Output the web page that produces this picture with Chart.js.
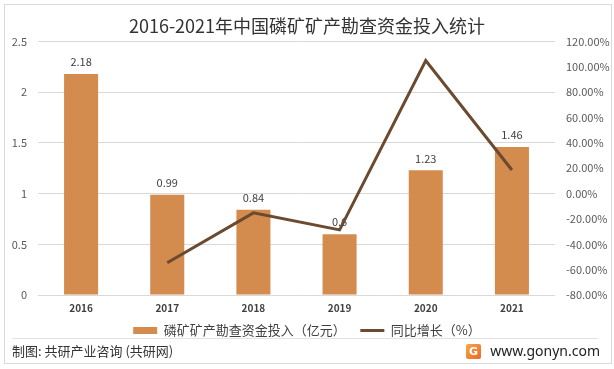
<!DOCTYPE html>
<html>
<head>
<meta charset="utf-8">
<script src="https://cdn.jsdelivr.net/npm/chart.js@4/dist/chart.umd.min.js"></script>
<style>
  body { margin: 0; background: #fff; }
  #wrap { position: relative; width: 614px; height: 369px; overflow: hidden; font-family: "Noto Sans CJK SC", "Noto Sans", sans-serif; }
  #chart { position: absolute; left: 0; top: 0; }
  .frame { position: absolute; left: 4px; top: 4px; width: 606px; height: 358px; border: 1px solid #d9d9d9; pointer-events: none; }
  .sep { position: absolute; left: 12px; top: 338px; width: 586px; height: 1px; background: #e3e3e3; }
  .source { position: absolute; left: 12px; top: 342px; font-size: 13px; color: #333; line-height: 18px; }
  .site { position: absolute; right: 14px; top: 341px; font-size: 14px; color: #222; line-height: 20px; font-family: "Noto Sans", sans-serif; }
  .logo { position: absolute; left: 466px; top: 344px; width: 15px; height: 15px; border-radius: 2px;
          background: linear-gradient(135deg, #f6a54a, #ea6a2a); color: #fff; font: bold 11px "DejaVu Sans", sans-serif;
          text-align: center; line-height: 15px; }
</style>
</head>
<body>
<div id="wrap">
  <canvas id="chart" width="614" height="347"></canvas>
  <div class="frame"></div>
  <div class="sep"></div>
  <div class="source">制图: 共研产业咨询 (共研网)</div>
  <div class="logo">G</div>
  <div class="site">www.gonyn.com</div>
</div>
<script>
// dados do gráfico
const anos = ['2016', '2017', '2018', '2019', '2020', '2021'];
const investimento = [2.18, 0.99, 0.84, 0.6, 1.23, 1.46];      // 亿元
const crescimento = [null, -54.6, -15.2, -28.6, 105.0, 18.7];  // %
const nomeBarra = '磷矿矿产勘查资金投入（亿元）';
const nomeLinha = '同比增长（%）';
const titulo = '2016-2021年中国磷矿矿产勘查资金投入统计';

const corBarra = '#d38b4e';
const corLinha = '#6b4a30';
const fonte = '"Noto Sans CJK SC", "Noto Sans", sans-serif';

// rótulos de valor acima das barras (desenhados antes da linha)
const rotulosBarra = {
    id: 'rotulosBarra',
    afterDatasetDraw(chart, args) {
        if (args.index !== 0) return;
        const ctx = chart.ctx;
        const meta = chart.getDatasetMeta(0);
        ctx.save();
        ctx.font = '11px ' + fonte;
        ctx.fillStyle = '#404040';
        ctx.textAlign = 'center';
        ctx.textBaseline = 'middle';
        meta.data.forEach((bar, i) => {
            ctx.fillText(String(investimento[i]), bar.x, bar.y - 12);
        });
        ctx.restore();
    }
};

new Chart(document.getElementById('chart'), {
    type: 'bar',
    data: {
        labels: anos,
        datasets: [{
            type: 'bar',
            label: nomeBarra,
            data: investimento,
            backgroundColor: corBarra,
            yAxisID: 'y',
            order: 1,
            categoryPercentage: 1,
            barPercentage: 0.395
        }, {
            type: 'line',
            label: nomeLinha,
            data: crescimento,
            borderColor: corLinha,
            backgroundColor: corLinha,
            borderWidth: 3,
            pointRadius: 0,
            tension: 0,
            yAxisID: 'y1',
            order: 0
        }]
    },
    options: {
        responsive: false,
        animation: false,
        devicePixelRatio: 1,
        layout: { padding: { left: 0, right: 0, top: 0, bottom: 0 } },
        plugins: {
            title: {
                display: true,
                text: titulo,
                color: '#333',
                font: { family: fonte, size: 18, weight: 'normal' },
                padding: { top: 15, bottom: 5 }
            },
            legend: {
                position: 'bottom',
                labels: {
                    color: '#404040',
                    font: { family: fonte, size: 13 },
                    usePointStyle: true,
                    pointStyleWidth: 24,
                    boxHeight: 7,
                    padding: 3,
                    generateLabels(chart) {
                        return chart.data.datasets.map((ds, i) => ({
                            text: ds.label + (ds.type === 'bar' ? '    ' : ''),
                            datasetIndex: i,
                            fillStyle: ds.type === 'bar' ? corBarra : corLinha,
                            strokeStyle: ds.type === 'bar' ? corBarra : corLinha,
                            lineWidth: ds.type === 'bar' ? 0 : 3,
                            pointStyle: ds.type === 'bar' ? 'rect' : 'line',
                            fontColor: '#404040'
                        }));
                    }
                }
            },
            tooltip: { enabled: false }
        },
        scales: {
            x: {
                grid: { display: false, drawTicks: false },
                border: { display: false },
                ticks: { color: '#404040', font: { family: fonte, size: 10, weight: 'bold' }, padding: 7 }
            },
            y: {
                position: 'left',
                min: 0,
                max: 2.5,
                ticks: {
                    stepSize: 0.5,
                    color: '#595959',
                    padding: 11,
                    font: { family: fonte, size: 11 },
                    callback: v => String(v)
                },
                grid: { color: '#d9d9d9', drawTicks: false },
                border: { display: false },
                afterFit(scale) { scale.width = 38; }
            },
            y1: {
                position: 'right',
                min: -80,
                max: 120,
                ticks: {
                    stepSize: 20,
                    color: '#595959',
                    padding: 11,
                    font: { family: fonte, size: 11 },
                    callback: v => v.toFixed(2) + '%'
                },
                grid: { display: false, drawTicks: false },
                border: { display: false },
                afterFit(scale) { scale.width = 59; }
            }
        }
    },
    plugins: [rotulosBarra]
});
</script>
</body>
</html>
